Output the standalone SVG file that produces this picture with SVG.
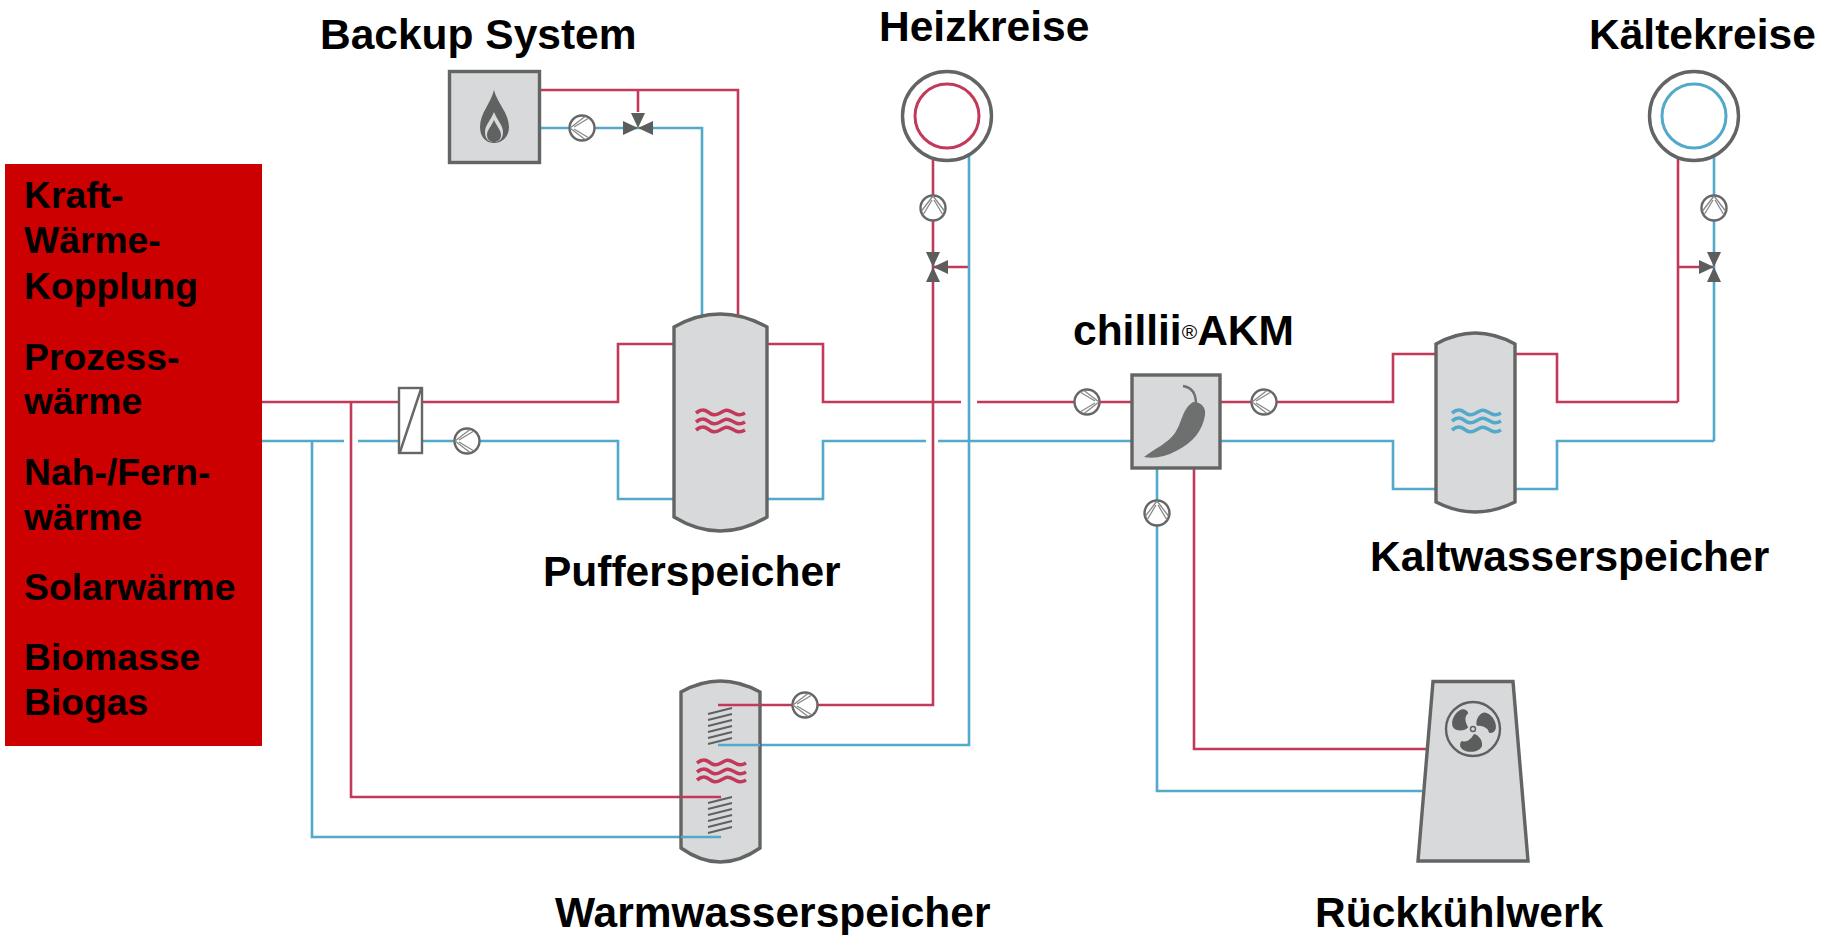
<svg xmlns="http://www.w3.org/2000/svg" width="1831" height="935" viewBox="0 0 1831 935">
<style>
text{font-family:"Liberation Sans",Arial,sans-serif;font-weight:700;fill:#000}
.lab{font-size:42.5px}
.src{font-size:37.3px}
.r{fill:none;stroke:#c2395a;stroke-width:2.6}
.b{fill:none;stroke:#52a9c9;stroke-width:2.6}
.body{fill:#d8d9db;stroke:#636464;stroke-width:3.4}
.g{fill:#606161}
.ring{fill:#fff;stroke:#636464;stroke-width:3.4}
.coil{fill:none;stroke:#5f6060;stroke-width:2}
</style>
<defs>
<g id="pump"><circle r="12.5" fill="#fff" stroke="#666" stroke-width="2.4"/><path d="M-12 0L3 -11.5M-12 0L3 11.5M-8 -1L7 -10M-8 1L7 10" fill="none" stroke="#888" stroke-width="1.3"/></g>
<path id="tri" d="M0 0L-7 -15H7Z" fill="#5c5d5d"/>
<path id="wave" d="M0 2C5 -2 8 -2 12 1S19 5 24 2S31 -2 36 1S44 5 49 2" fill="none" stroke-width="3.600"/>
<path id="blade" d="M1 5C6 6 10 12 9 17C7 23 -5 25 -11 20C-14 17 -13 13 -11 12C-6 14 -2 10 1 5Z" fill="#5c5d5d"/>
<g id="coil" class="coil"><path d="M708 6L732 0M708 12L732 6M708 18L732 12M708 24L732 18M708 30L732 24M708 36L732 30"/></g>
</defs>

<rect id="quellen-box" x="5" y="164" width="257" height="582" fill="#cc0000"/>

<g id="connectors">
<path class="r" d="M262 402H618V344H673M768 344H823V402H961M977 402H1131M1221 402H1393V354H1436M1515 354H1557V402H1678"/>
<path class="b" d="M262 441H344M358 441H618V499H673M768 499H823V441H926M938 441H1131M1221 441H1393V489H1436M1515 489H1557V441H1714"/>
<path class="r" d="M351 402V797H681"/>
<path class="b" d="M312 441V837H681"/>
<path class="r" d="M541 90H738V316M638 90V112"/>
<path class="b" d="M541 128H702V316"/>
<path class="r" d="M933 158V705H760M933 267H969"/>
<path class="b" d="M969 155V745H760"/>
<path class="r" d="M1678 155V402M1678 267H1714"/>
<path class="b" d="M1714 155V441"/>
<path class="b" d="M1157 469V791H1422"/>
<path class="r" d="M1194 469V749H1428"/>
</g>

<g id="backup">
<rect class="body" x="449.500" y="71.500" width="90" height="91"/>
<path class="g" d="M494 90C497 103 509 113 509 127C509 137 502 143 494 143C486 143 480 137 480 127C480 113 491 103 494 90Z"/>
<path d="M494 112C497 120 503 125 503 132C503 139 499 142 494 142C489 142 485 139 485 132C485 125 491 120 494 112Z" fill="#d8d9db"/>
<path class="g" d="M494 120C497 127 501 130 501 135C501 140 497 142 494 142C491 142 487 140 487 135C487 130 491 127 494 120Z"/>
<text class="lab" x="320" y="49">Backup System</text>
</g>
<g id="pump-backup"><use href="#pump" x="582" y="128"/></g>
<g id="valve-backup"><use href="#tri" transform="translate(638 128)"/><use href="#tri" transform="translate(638 128) rotate(90)"/><use href="#tri" transform="translate(638 128) rotate(-90)"/></g>

<g id="heizkreise">
<circle class="ring" cx="947" cy="116" r="44.500"/>
<circle cx="947" cy="116" r="32" fill="#fff" stroke="#c2395a" stroke-width="3"/>
<text class="lab" x="879" y="41">Heizkreise</text>
</g>
<g id="pump-heiz"><use href="#pump" transform="translate(933 208) rotate(90)"/></g>
<g id="valve-heiz"><use href="#tri" transform="translate(933 267)"/><use href="#tri" transform="translate(933 267) rotate(180)"/><use href="#tri" transform="translate(933 267) rotate(90)"/></g>

<g id="kaeltekreise">
<circle class="ring" cx="1694" cy="116" r="44.500"/>
<circle cx="1694" cy="116" r="32" fill="#fff" stroke="#52a9c9" stroke-width="3"/>
<text class="lab" x="1589" y="49">Kältekreise</text>
</g>
<g id="pump-kaelte"><use href="#pump" transform="translate(1714 208) rotate(90)"/></g>
<g id="valve-kaelte"><use href="#tri" transform="translate(1714 267)"/><use href="#tri" transform="translate(1714 267) rotate(180)"/><use href="#tri" transform="translate(1714 267) rotate(-90)"/></g>

<g id="waermetauscher">
<rect x="399" y="388" width="23" height="65" fill="#fff" stroke="#666" stroke-width="2.400"/>
<path d="M400 452L421 389" fill="none" stroke="#666" stroke-width="2.400"/>
</g>
<g id="pump-quelle"><use href="#pump" x="467" y="441"/></g>

<g id="pufferspeicher">
<path class="body" d="M674 327Q720 301 767 327V517Q720 545 674 517Z"/>
<use href="#wave" x="696" y="411" stroke="#c2395a"/><use href="#wave" x="696" y="420" stroke="#c2395a"/><use href="#wave" x="696" y="428" stroke="#c2395a"/>
<text class="lab" x="543" y="586">Pufferspeicher</text>
</g>

<g id="warmwasserspeicher">
<path class="body" d="M681 692Q720 670 760 692V848Q720 876 681 848Z"/>
<use href="#wave" x="697" y="761" stroke="#c2395a"/><use href="#wave" x="697" y="770" stroke="#c2395a"/><use href="#wave" x="697" y="778" stroke="#c2395a"/>
<use href="#coil" y="708"/><use href="#coil" y="797"/>
<path class="r" d="M718 705H760M681 797H721"/>
<path class="b" d="M718 745H760M681 837H721"/>
<text class="lab" x="555" y="927">Warmwasserspeicher</text>
</g>
<g id="pump-warm"><use href="#pump" x="805" y="705"/></g>

<g id="chillii">
<rect class="body" x="1132" y="375" width="88" height="93"/>
<path d="M1183 386C1190 387 1196 392 1196 404" fill="none" stroke="#6e6f6f" stroke-width="2.400"/>
<path fill="#6e6f6f" d="M1144 457C1156 448 1168 443 1175 433C1182 423 1182 409 1193 402C1202 402 1206 408 1205 415C1203 430 1193 443 1176 451C1165 457 1154 459 1144 457Z"/>
<text class="lab" x="1073" y="345">chillii<tspan font-size="21" font-weight="400" dy="-6">®</tspan><tspan dy="6">AKM</tspan></text>
</g>
<g id="pump-chillii-l"><use href="#pump" transform="translate(1087 402) rotate(180)"/></g>
<g id="pump-chillii-r"><use href="#pump" x="1264" y="402"/></g>
<g id="pump-chillii-u"><use href="#pump" transform="translate(1157 513) rotate(90)"/></g>

<g id="kaltwasserspeicher">
<path class="body" d="M1436 344Q1475 322 1515 344V502Q1475 522 1436 502Z"/>
<use href="#wave" x="1452" y="411" stroke="#52a9c9"/><use href="#wave" x="1452" y="419" stroke="#52a9c9"/><use href="#wave" x="1452" y="428" stroke="#52a9c9"/>
<text class="lab" x="1370" y="571">Kaltwasserspeicher</text>
</g>

<g id="rueckkuehlwerk">
<path class="body" d="M1433 681.500H1513L1528 861H1418Z"/>
<circle cx="1473" cy="729" r="27" fill="none" stroke="#5f6060" stroke-width="2.400"/>
<use href="#blade" transform="translate(1473 729)"/><use href="#blade" transform="translate(1473 729) rotate(120)"/><use href="#blade" transform="translate(1473 729) rotate(240)"/>
<circle cx="1473" cy="729" r="2.500" fill="none" stroke="#5f6060" stroke-width="1.400"/>
<text class="lab" x="1315" y="927">Rückkühlwerk</text>
</g>

<g id="quellen">
<text class="src" x="24" y="208">Kraft-</text>
<text class="src" x="24" y="253">Wärme-</text>
<text class="src" x="24" y="299">Kopplung</text>
<text class="src" x="24" y="370">Prozess-</text>
<text class="src" x="24" y="414">wärme</text>
<text class="src" x="24" y="485">Nah-/Fern-</text>
<text class="src" x="24" y="530">wärme</text>
<text class="src" x="24" y="600">Solarwärme</text>
<text class="src" x="24" y="670">Biomasse</text>
<text class="src" x="24" y="715">Biogas</text>
</g>
</svg>
